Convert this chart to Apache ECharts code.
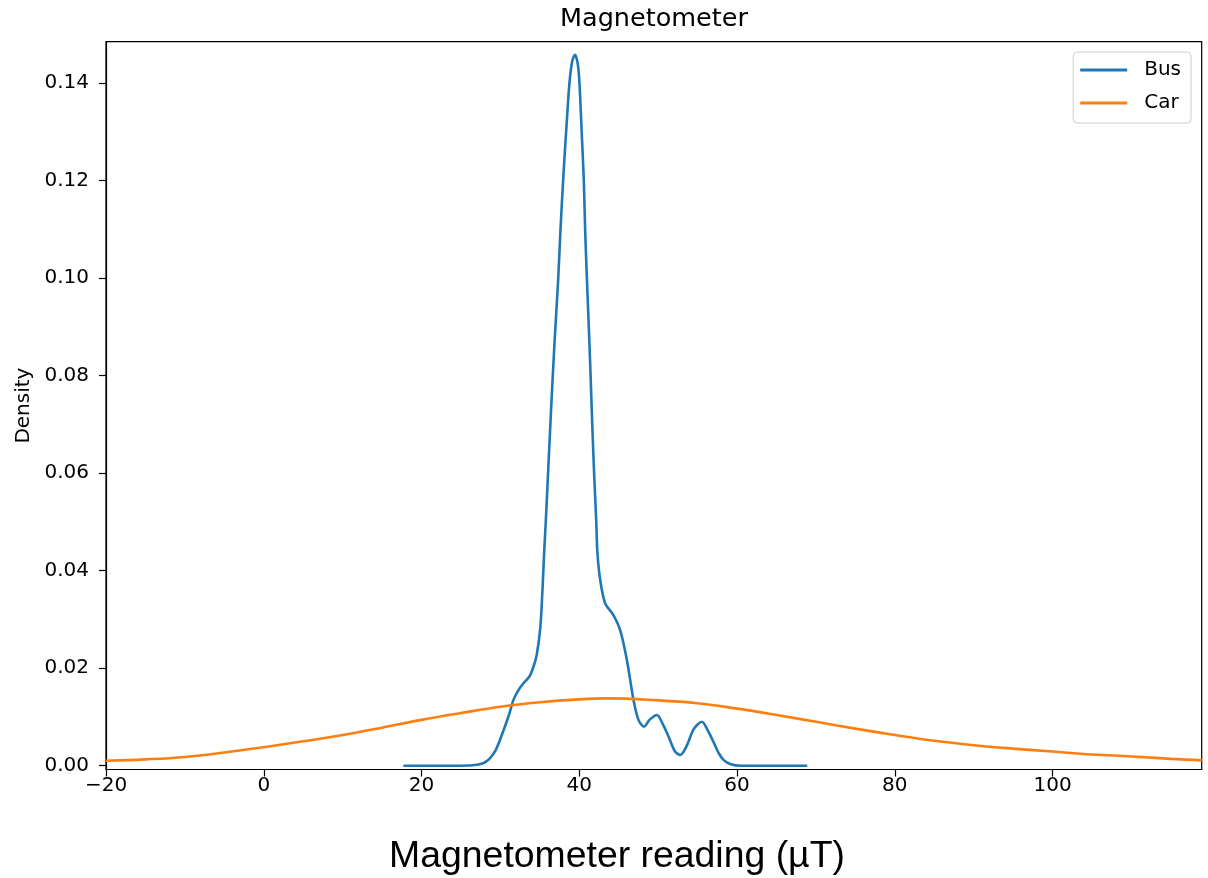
<!DOCTYPE html>
<html>
<head>
<meta charset="utf-8">
<script src="https://cdn.jsdelivr.net/npm/echarts@6/dist/echarts.min.js"></script>
<style>
html,body{margin:0;padding:0;background:#fff;}
#chart{width:1208px;height:878px;}
</style>
</head>
<body>
<div id="chart"></div>
<script>
// ---- data ----
const busX = [17.7, 24, 26.5, 27.8, 28.6, 29.4, 30.2, 31.1, 31.65, 32.29, 32.92, 33.68, 34.19, 34.6, 35.05, 35.33, 35.54, 35.76, 36.39, 36.9, 37.3, 37.6, 38.0, 38.35, 38.75, 39.1, 39.45, 39.8, 40.02, 40.3, 40.57, 40.74, 40.96, 41.3, 41.59, 41.85, 42.14, 42.3, 42.65, 43.28, 44.33, 45.18, 46.03, 46.87, 47.5, 48.22, 48.9, 49.83, 50.6, 51.31, 52.1, 52.79, 53.6, 54.5, 55.54, 56.3, 57.0, 57.7, 58.28, 59.2, 60.5, 68.9];
const busY = [0, 0, 0.0001, 0.0005, 0.0014, 0.0032, 0.0064, 0.0105, 0.0135, 0.0155, 0.0169, 0.0183, 0.0203, 0.0227, 0.0282, 0.0360, 0.0436, 0.0504, 0.0720, 0.0880, 0.0990, 0.1095, 0.1215, 0.1305, 0.1400, 0.1445, 0.1458, 0.1440, 0.1400, 0.1300, 0.1201, 0.1100, 0.1000, 0.0860, 0.0724, 0.0610, 0.0504, 0.0436, 0.0381, 0.0333, 0.0309, 0.0278, 0.0217, 0.0135, 0.0094, 0.0080, 0.0094, 0.0104, 0.0085, 0.0060, 0.0030, 0.0022, 0.0040, 0.0075, 0.0090, 0.0072, 0.0049, 0.0025, 0.0012, 0.0003, 0, 0];
const carX = [-20, -15, -10, -5, 0, 5, 10, 15, 20, 25, 30, 35, 40, 43.5, 50, 55, 60, 65, 70, 75, 80, 85, 90, 95, 100, 105, 110, 115, 118.9];
const carY = [0.0010, 0.0013, 0.0018, 0.0027, 0.0038, 0.0050, 0.0063, 0.0078, 0.0094, 0.0108, 0.0121, 0.0130, 0.0136, 0.0138, 0.0134, 0.0128, 0.0117, 0.0104, 0.0090, 0.0076, 0.0063, 0.0051, 0.0042, 0.0035, 0.0029, 0.0023, 0.0019, 0.0014, 0.0011];
const xTicks = [-20, 0, 20, 40, 60, 80, 100];
const yTicks = [0, 0.02, 0.04, 0.06, 0.08, 0.10, 0.12, 0.14];
const seriesNames = ['Bus', 'Car'];
const titleText = 'Magnetometer';
const xLabelText = 'Magnetometer reading (\u00b5T)';
const yLabelText = 'Density';

const zip = (xs, ys) => xs.map((x, i) => [x, ys[i]]);

const chart = echarts.init(document.getElementById('chart'), null, {renderer: 'canvas'});
const tickFont = {fontFamily: 'DejaVu Sans', fontSize: 20, color: '#000'};

chart.setOption({
  animation: false,
  backgroundColor: '#fff',
  grid: {
    left: 106, right: 6.3, top: 41.7, bottom: 108.5,
    show: true, borderColor: '#000', borderWidth: 1.2, containLabel: false
  },
  graphic: [
    {type: 'text', x: 654, y: 19, style: {text: titleText, fontFamily: 'DejaVu Sans', fontSize: 25.5, fill: '#000', align: 'center', verticalAlign: 'middle'}},
    {type: 'text', x: 617, y: 857, style: {text: xLabelText, fontFamily: 'Liberation Sans', fontSize: 37.4, fill: '#000', align: 'center', verticalAlign: 'middle'}}
  ],
  legend: {
    orient: 'vertical', right: 17, top: 52,
    padding: [8, 10, 10, 7],
    itemWidth: 47, itemHeight: 3, itemGap: 13,
    icon: 'rect',
    borderColor: '#d0d0d0', borderWidth: 1, borderRadius: 4,
    backgroundColor: 'rgba(255,255,255,0.8)',
    textStyle: {fontFamily: 'DejaVu Sans', fontSize: 20, color: '#000', padding: [0, 0, 0, 12]},
    data: seriesNames
  },
  xAxis: {
    type: 'value', min: -20, max: 118.9,
    splitLine: {show: false},
    axisLine: {show: true, onZero: false, lineStyle: {color: '#000', width: 1.2}},
    axisTick: {show: true, length: 7, customValues: xTicks, lineStyle: {color: '#000', width: 1.2}},
    axisLabel: Object.assign({customValues: xTicks, margin: 6, formatter: v => String(v).replace('-', '\u2212')}, tickFont)
  },
  yAxis: {
    type: 'value', min: -0.00078, max: 0.1485,
    name: yLabelText, nameLocation: 'middle', nameGap: 70, nameRotate: 90,
    nameTextStyle: {fontFamily: 'DejaVu Sans', fontSize: 20, color: '#000'},
    splitLine: {show: false},
    axisLine: {show: true, onZero: false, lineStyle: {color: '#000', width: 1.2}},
    axisTick: {show: true, length: 7, customValues: yTicks, lineStyle: {color: '#000', width: 1.2}},
    axisLabel: Object.assign({customValues: yTicks, margin: 17, formatter: v => v.toFixed(2)}, tickFont)
  },
  series: [
    {name: seriesNames[0], type: 'line', data: zip(busX, busY), showSymbol: false, symbol: 'none', smooth: 0.3,
     color: '#1f77b4', lineStyle: {color: '#1f77b4', width: 2.6}},
    {name: seriesNames[1], type: 'line', data: zip(carX, carY), showSymbol: false, symbol: 'none', smooth: 0.4,
     color: '#ff7f0e', lineStyle: {color: '#ff7f0e', width: 2.6}}
  ]
});
</script>
</body>
</html>
